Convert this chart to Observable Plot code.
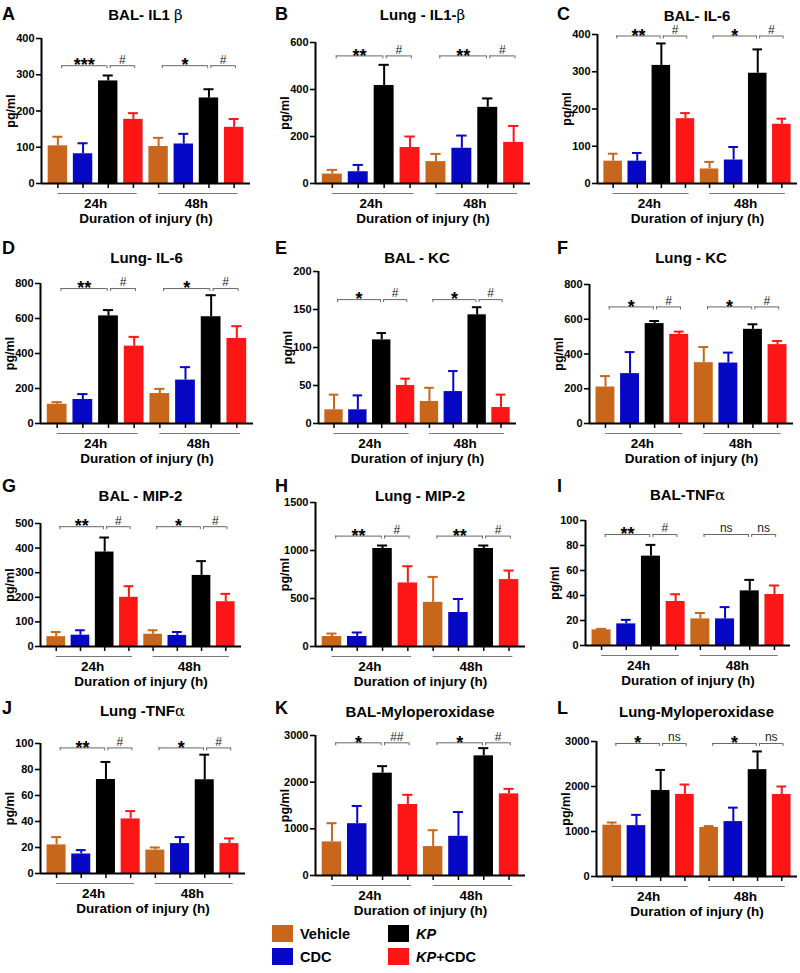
<!DOCTYPE html>
<html><head><meta charset="utf-8">
<script src="https://cdn.jsdelivr.net/npm/d3@7"></script>
<script src="https://cdn.jsdelivr.net/npm/@observablehq/plot@0.6"></script>
<style>
body{margin:0;background:#fff;font-family:"Liberation Sans",Arial,sans-serif;}
#fig{position:relative;width:800px;height:973px;overflow:hidden;background:#fff;}
.panel{position:absolute;}
.letter{position:absolute;font-weight:bold;font-size:18px;line-height:1;transform:translateY(-50%);}
.title{position:absolute;font-weight:bold;font-size:15px;line-height:1;transform:translate(-50%,-50%);white-space:nowrap;}
.greek{font-family:"DejaVu Serif",serif;font-weight:normal;}
svg g[aria-label="y-axis tick"] path{stroke-width:1.6px;}
.legend{position:absolute;font-weight:bold;font-size:14.5px;}
.litem{position:absolute;display:flex;align-items:center;white-space:nowrap;}
.sw{width:21px;height:17px;margin-right:7px;}
</style>
</head><body>
<div id="fig"></div>
<script>
// ---- data ----
const treatments = ["Vehicle", "CDC", "KP", "KP+CDC"];
const treatmentColors = ["#c8661c", "#0707c6", "#000000", "#fe1616"];
const timepoints = ["24h", "48h"];
const letters = ["A","B","C","D","E","F","G","H","I","J","K","L"];
const titleText = ["BAL- IL1 ","Lung - IL1-","BAL- IL-6","Lung- IL-6","BAL - KC","Lung - KC","BAL - MIP-2","Lung - MIP-2","BAL-TNF","Lung -TNF","BAL-Myloperoxidase","Lung-Myloperoxidase"];
const titleGreek = ["β","β","","","","","","","α","α","",""];
const yMaxes = [400,600,400,800,200,800,500,1500,100,100,3000,3000];
const yTickCounts = [4,3,4,4,4,4,5,3,5,5,3,3];

// means and SEM, order: 24h (Vehicle, CDC, KP, KP+CDC), 48h (Vehicle, CDC, KP, KP+CDC)
const meanA = [104,82,283,177,102,109,236,155];   const semA = [25,29,15,17,24,28,24,23];
const meanB = [40,50,417,153,93,150,324,175];     const semB = [18,29,88,47,33,54,38,70];
const meanC = [60,60,317,174,39,63,296,159];      const semC = [20,22,59,15,19,35,64,15];
const meanD = [110,137,615,442,171,248,610,486];  const semD = [12,31,33,53,27,74,123,70];
const meanE = [18,18,110,50,29,42,143,21];        const semE = [20,19,9,9,18,27,10,17];
const meanF = [210,287,575,513,350,348,542,454];  const semF = [63,124,15,16,90,60,29,21];
const meanG = [40,46,384,200,50,45,289,182];      const semG = [19,20,59,45,16,14,58,32];
const meanH = [104,104,1021,662,460,354,1021,697];const semH = [31,42,31,174,265,141,31,94];
const meanI = [12.5,17.3,71.5,35.2,21.3,21.3,43.7,40.8]; const semI = [0.8,3.2,9,5.8,4.7,9.4,8.8,7.2];
const meanJ = [22,15,72.3,42,18,23,72.1,23];      const semJ = [6,3,13.5,6,2,5,19.3,4];
const meanK = [720,1110,2193,1521,620,840,2564,1750]; const semK = [400,380,150,208,350,520,165,107];
const meanL = [1140,1130,1912,1824,1090,1220,2375,1824]; const semL = [60,240,456,220,30,310,404,176];

// significance labels: [24h KP vs Vehicle, 24h KP+CDC vs KP, 48h KP vs Vehicle, 48h KP+CDC vs KP]
const sigA = ["***","#","*","#"];  const sigB = ["**","#","**","#"];
const sigC = ["**","#","*","#"];   const sigD = ["**","#","*","#"];
const sigE = ["*","#","*","#"];    const sigF = ["*","#","*","#"];
const sigG = ["**","#","*","#"];   const sigH = ["**","#","**","#"];
const sigI = ["**","#","ns","ns"]; const sigJ = ["**","#","*","#"];
const sigK = ["*","##","*","#"];   const sigL = ["*","ns","*","ns"];
const bracketLevels = [325,543,396,771,163,671,487,1150,88.8,96.6,2843,2956];

const means = [meanA,meanB,meanC,meanD,meanE,meanF,meanG,meanH,meanI,meanJ,meanK,meanL];
const sems = [semA,semB,semC,semD,semE,semF,semG,semH,semI,semJ,semK,semL];
const sigs = [sigA,sigB,sigC,sigD,sigE,sigF,sigG,sigH,sigI,sigJ,sigK,sigL];

// ---- layout (page pixels) ----
const geom = [
 {axisX:41,right:250,yTop:38,y0:183},
 {axisX:315,right:530,yTop:42,y0:183},
 {axisX:597,right:797,yTop:34,y0:183},
 {axisX:40,right:253,yTop:283,y0:423},
 {axisX:318,right:516,yTop:271,y0:423},
 {axisX:589,right:793,yTop:284,y0:423},
 {axisX:40,right:241,yTop:523,y0:646},
 {axisX:315,right:525,yTop:502,y0:646},
 {axisX:585,right:790,yTop:520,y0:645},
 {axisX:40,right:245,yTop:743,y0:873},
 {axisX:315,right:525,yTop:735,y0:875},
 {axisX:596,right:797,yTop:741,y0:876}
];
const rowTitleY = [15,257,495,711];
const rowLetterY = [14,248,486,708];
const colLetterX = [2,275,557];

const fig = document.getElementById("fig");
const xLo = -0.65, xHi = 7.65;
const mT = 30, mB = 48, mL = 42, mR = 3;

letters.forEach((letter, k) => {
  const g = geom[k];
  const yMax = yMaxes[k];
  const h = g.y0 - g.yTop;
  const px = yMax / h;
  const bars = means[k].map((m, i) => ({
    i, grp: timepoints[Math.floor(i / 4)], trt: treatments[i % 4],
    mean: m, hi: m + sems[k][i], color: treatmentColors[i % 4]
  }));
  const brackets = sigs[k].map((s, j) => {
    const base = Math.floor(j / 2) * 4;
    return j % 2 === 0
      ? {label: s, x1: base + 0.15, x2: base + 1.95, y: bracketLevels[k]}
      : {label: s, x1: base + 2.08, x2: base + 3.05, y: bracketLevels[k]};
  });
  const bracketEnds = brackets.flatMap(b => [{x: b.x1, y: b.y}, {x: b.x2, y: b.y}]);
  const groupLines = timepoints.map((t, j) => ({x1: j * 4, x2: j * 4 + 3.15}));
  const isStar = d => /\*/.test(d.label);

  const chart = Plot.plot({
    width: mL + (g.right - g.axisX) + mR,
    height: mT + h + mB,
    marginTop: mT, marginBottom: mB, marginLeft: mL, marginRight: mR,
    style: "font-family: 'Liberation Sans', Arial, sans-serif; font-size: 11px; font-weight: bold; background: transparent; overflow: visible; color: #000;",
    x: {domain: [xLo, xHi], axis: null},
    y: {domain: [0, yMax], ticks: yTickCounts[k], tickSize: 5, tickPadding: 2, label: null, tickFormat: d => String(d)},
    color: {type: "identity"},
    marks: [
      Plot.rect(bars, {x1: d => d.i - 0.385, x2: d => d.i + 0.385, y1: 0, y2: "mean", fill: "color"}),
      Plot.ruleX(bars, {x: "i", y1: "mean", y2: "hi", stroke: "color", strokeWidth: 2}),
      Plot.ruleY(bars, {y: "hi", x1: d => d.i - 0.2, x2: d => d.i + 0.2, stroke: "color", strokeWidth: 2}),
      Plot.ruleY([0], {strokeWidth: 2}),
      Plot.ruleX([xLo], {y1: 0, y2: yMax, strokeWidth: 2}),
      Plot.ruleX(bars, {x: "i", y1: 0, y2: -5 * px, strokeWidth: 1.5}),
      Plot.ruleY(groupLines, {x1: "x1", x2: "x2", y: -10 * px, stroke: "#777", strokeWidth: 1}),
      Plot.text(timepoints, {x: (d, j) => j * 4 + 1.5, y: 0, dy: 20, text: d => d, fontSize: 13.5, fontWeight: "bold"}),
      Plot.text(["Duration of injury (h)"], {x: 3.5, y: 0, dy: 35, text: d => d, fontSize: 13.5, fontWeight: "bold"}),
      Plot.text(["pg/ml"], {x: xLo, y: yMax / 2, dx: -31, rotate: -90, text: d => d, fontSize: 12.5, fontWeight: "bold"}),
      Plot.ruleY(brackets, {y: "y", x1: "x1", x2: "x2", stroke: "#666", strokeWidth: 1}),
      Plot.ruleX(bracketEnds, {x: "x", y1: "y", y2: d => d.y - 3 * px, stroke: "#666", strokeWidth: 1}),
      Plot.text(brackets.filter(isStar), {x: d => (d.x1 + d.x2) / 2, y: "y", text: "label", fontSize: 18, fontWeight: "bold", lineAnchor: "middle", dy: 0}),
      Plot.text(brackets.filter(d => !isStar(d)), {x: d => (d.x1 + d.x2) / 2, y: "y", text: "label", fontSize: 12, fontWeight: "normal", fill: "#222", lineAnchor: "middle", dy: -6})
    ]
  });
  const wrap = document.createElement("div");
  wrap.className = "panel";
  wrap.style.left = (g.axisX - mL) + "px";
  wrap.style.top = (g.yTop - mT) + "px";
  wrap.appendChild(chart);
  fig.appendChild(wrap);
});

// titles and letters
letters.forEach((letter, k) => {
  const g = geom[k];
  const row = Math.floor(k / 3), col = k % 3;
  const L = document.createElement("div");
  L.className = "letter";
  L.textContent = letter;
  L.style.left = colLetterX[col] + "px";
  L.style.top = rowLetterY[row] + "px";
  fig.appendChild(L);
  const T = document.createElement("div");
  T.className = "title";
  T.style.left = ((g.axisX + g.right) / 2) + "px";
  T.style.top = rowTitleY[row] + "px";
  T.appendChild(document.createTextNode(titleText[k]));
  if (titleGreek[k]) {
    const s = document.createElement("span");
    s.className = "greek";
    s.textContent = titleGreek[k];
    T.appendChild(s);
  }
  fig.appendChild(T);
});

// legend
const legendPos = [[272, 934], [272, 957], [388, 934], [388, 957]];
treatments.forEach((t, i) => {
  const item = document.createElement("div");
  item.className = "litem legend";
  item.style.left = legendPos[i][0] + "px";
  item.style.top = (legendPos[i][1] - 9) + "px";
  const sw = document.createElement("div");
  sw.className = "sw";
  sw.style.background = treatmentColors[i];
  item.appendChild(sw);
  const lab = document.createElement("span");
  if (t.startsWith("KP")) {
    const it = document.createElement("i");
    it.textContent = "KP";
    lab.appendChild(it);
    lab.appendChild(document.createTextNode(t.slice(2)));
  } else lab.textContent = t;
  item.appendChild(lab);
  fig.appendChild(item);
});
</script>
</body></html>
